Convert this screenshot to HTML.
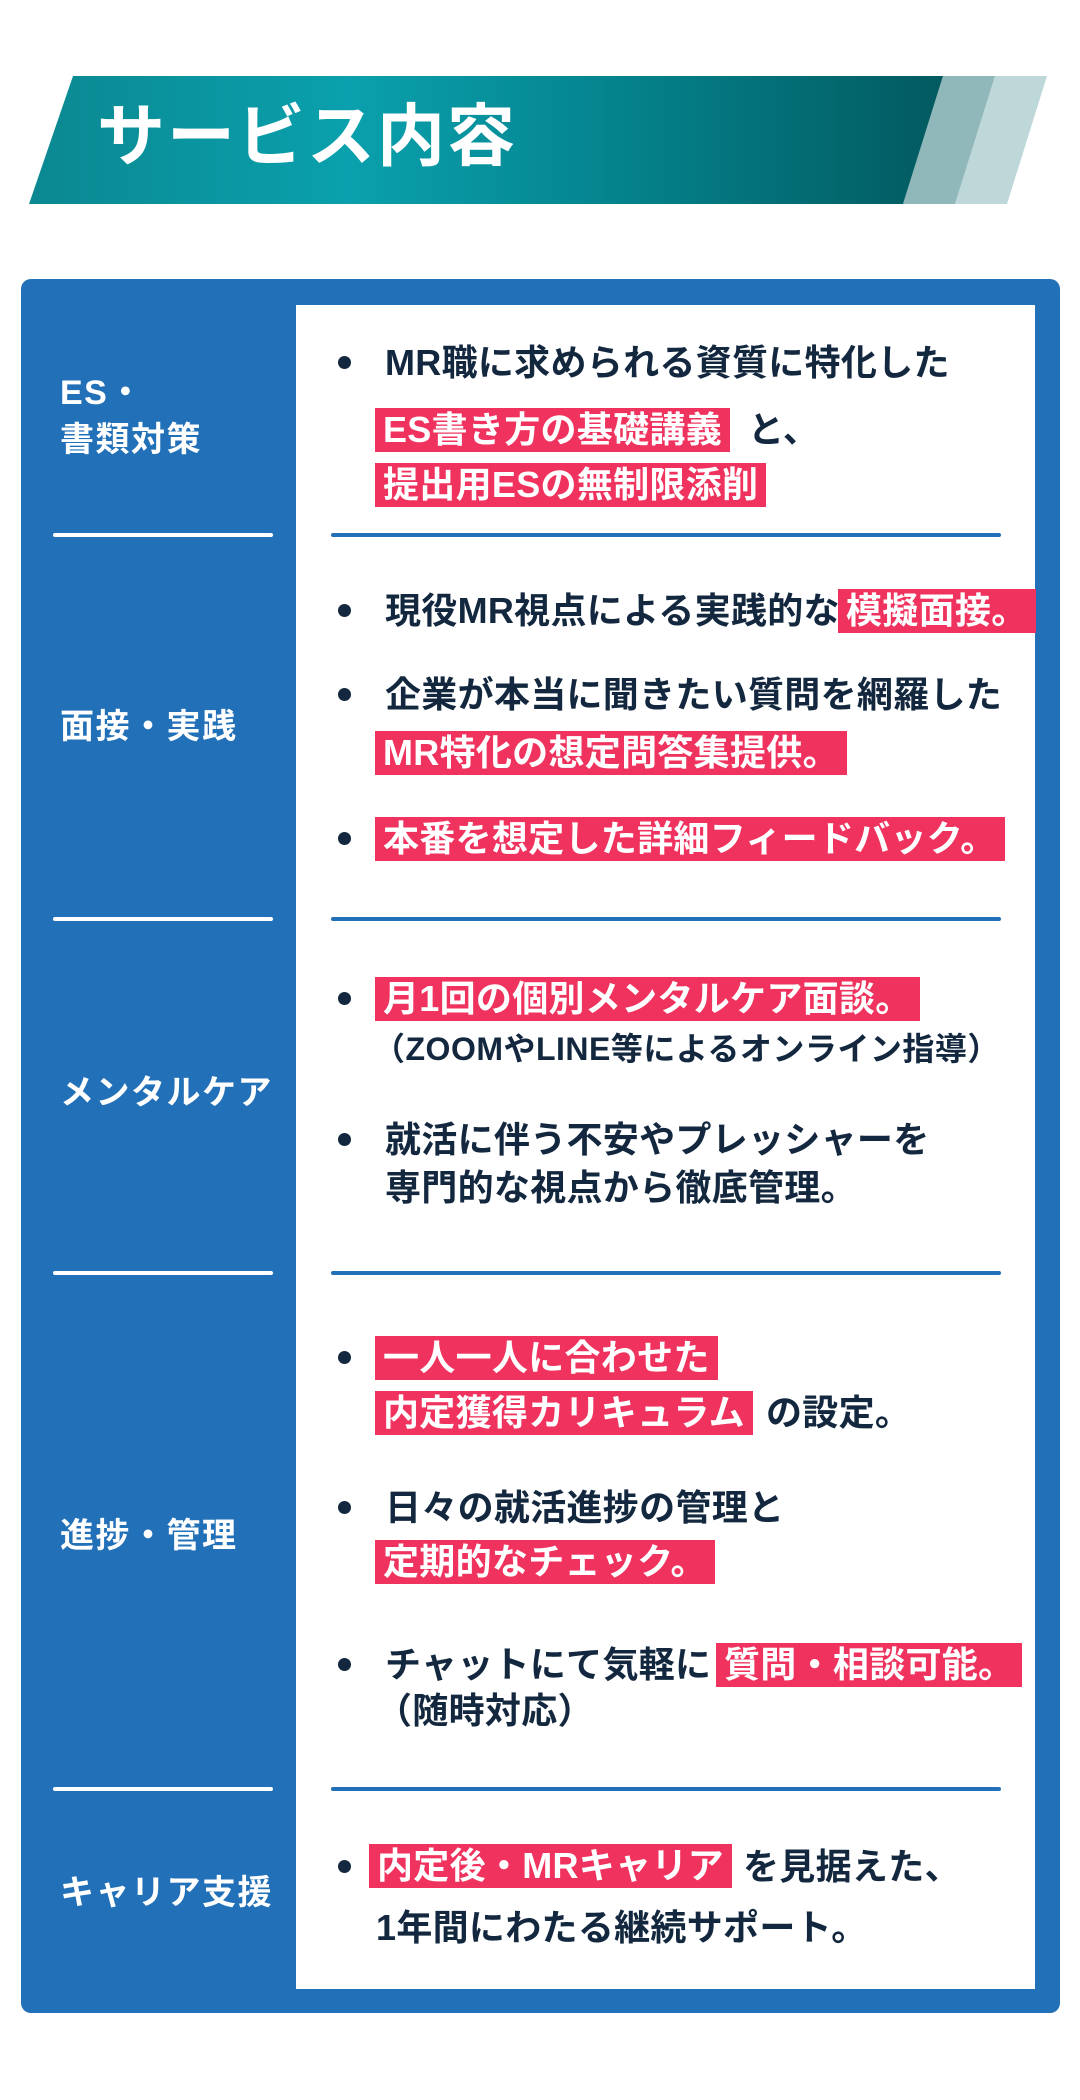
<!DOCTYPE html>
<html><head><meta charset="utf-8"><style>
*{margin:0;padding:0;box-sizing:border-box}
body{width:1080px;height:2100px;background:#fff;position:relative;overflow:hidden;font-family:"Liberation Sans","Noto Sans CJK JP",sans-serif;font-weight:bold}
.a{position:absolute;white-space:nowrap}
.t{position:absolute;white-space:nowrap;font-size:36px;line-height:44px;height:44px;color:#13283f;letter-spacing:0.3px}
.lab{position:absolute;white-space:nowrap;font-size:34px;line-height:44px;color:#fff;left:60px;letter-spacing:1.5px}
.h{position:absolute;background:#f0335e;color:#fff;font-size:36px;line-height:44px;height:44px;padding:0 8px;white-space:nowrap;letter-spacing:0.3px}
.b{position:absolute;left:338px;width:13px;height:13px;border-radius:50%;background:#13283f}
.wl{position:absolute;left:53px;width:220px;height:4px;background:#fff;border-radius:2px}
.bl{position:absolute;left:331px;width:670px;height:4px;background:#2270b8;border-radius:2px}
</style></head><body>
<svg class="a" style="left:0;top:0" width="1080" height="260">
<defs><linearGradient id="g" x1="0" x2="1" y1="0" y2="0">
<stop offset="0" stop-color="#0b8891"/><stop offset="0.35" stop-color="#0aa0ad"/><stop offset="0.6" stop-color="#058892"/><stop offset="1" stop-color="#025a60"/></linearGradient></defs>
<polygon points="995,76 1047,76 1007,204 955,204" fill="#bed7d9"/>
<polygon points="943,76 995,76 955,204 903,204" fill="#90b8ba"/>
<polygon points="73,76 943,76 903,204 29,204" fill="url(#g)"/>
</svg>
<div class="a" style="left:97px;top:97px;font-size:68px;line-height:80px;color:#fff;letter-spacing:2px">サービス内容</div>
<div class="a" style="left:21px;top:279px;width:1039px;height:1734px;background:#2270b8;border-radius:10px"></div>
<div class="a" style="left:296px;top:305px;width:739px;height:1684px;background:#fff"></div>

<div class="lab" style="top:371px">ES・</div>
<div class="lab" style="top:418px">書類対策</div>
<div class="lab" style="top:705px">面接・実践</div>
<div class="lab" style="top:1071px">メンタルケア</div>
<div class="lab" style="top:1514px">進捗・管理</div>
<div class="lab" style="top:1871px">キャリア支援</div>

<div class="wl" style="top:533px"></div><div class="bl" style="top:533px"></div>
<div class="wl" style="top:917px"></div><div class="bl" style="top:917px"></div>
<div class="wl" style="top:1271px"></div><div class="bl" style="top:1271px"></div>
<div class="wl" style="top:1787px"></div><div class="bl" style="top:1787px"></div>

<div class="b" style="top:356px"></div>
<div class="t" style="left:385px;top:341px">MR職に求められる資質に特化した</div>
<div class="h" style="left:375px;top:408px">ES書き方の基礎講義</div>
<div class="t" style="left:748px;top:408px">と、</div>
<div class="h" style="left:375px;top:463px">提出用ESの無制限添削</div>

<div class="b" style="top:604px"></div>
<div class="t" style="left:385px;top:589px">現役MR視点による実践的な</div>
<div class="h" style="left:838px;top:589px">模擬面接。</div>
<div class="b" style="top:688px"></div>
<div class="t" style="left:385px;top:673px">企業が本当に聞きたい質問を網羅した</div>
<div class="h" style="left:375px;top:731px">MR特化の想定問答集提供。</div>
<div class="b" style="top:832px"></div>
<div class="h" style="left:375px;top:817px">本番を想定した詳細フィードバック。</div>

<div class="b" style="top:992px"></div>
<div class="h" style="left:375px;top:977px">月1回の個別メンタルケア面談。</div>
<div class="t" style="left:373px;top:1027px;font-size:32px;letter-spacing:0.5px">（ZOOMやLINE等によるオンライン指導）</div>
<div class="b" style="top:1133px"></div>
<div class="t" style="left:385px;top:1118px">就活に伴う不安やプレッシャーを</div>
<div class="t" style="left:385px;top:1166px">専門的な視点から徹底管理。</div>

<div class="b" style="top:1351px"></div>
<div class="h" style="left:375px;top:1336px">一人一人に合わせた</div>
<div class="h" style="left:375px;top:1391px">内定獲得カリキュラム</div>
<div class="t" style="left:766px;top:1391px">の設定。</div>
<div class="b" style="top:1501px"></div>
<div class="t" style="left:385px;top:1486px">日々の就活進捗の管理と</div>
<div class="h" style="left:375px;top:1540px">定期的なチェック。</div>
<div class="b" style="top:1658px"></div>
<div class="t" style="left:385px;top:1643px">チャットにて気軽に</div>
<div class="h" style="left:716px;top:1643px">質問・相談可能。</div>
<div class="t" style="left:376px;top:1689px">（随時対応）</div>

<div class="b" style="top:1860px"></div>
<div class="h" style="left:369px;top:1844px">内定後・MRキャリア</div>
<div class="t" style="left:743px;top:1845px">を見据えた、</div>
<div class="t" style="left:376px;top:1906px">1年間にわたる継続サポート。</div>
</body></html>
